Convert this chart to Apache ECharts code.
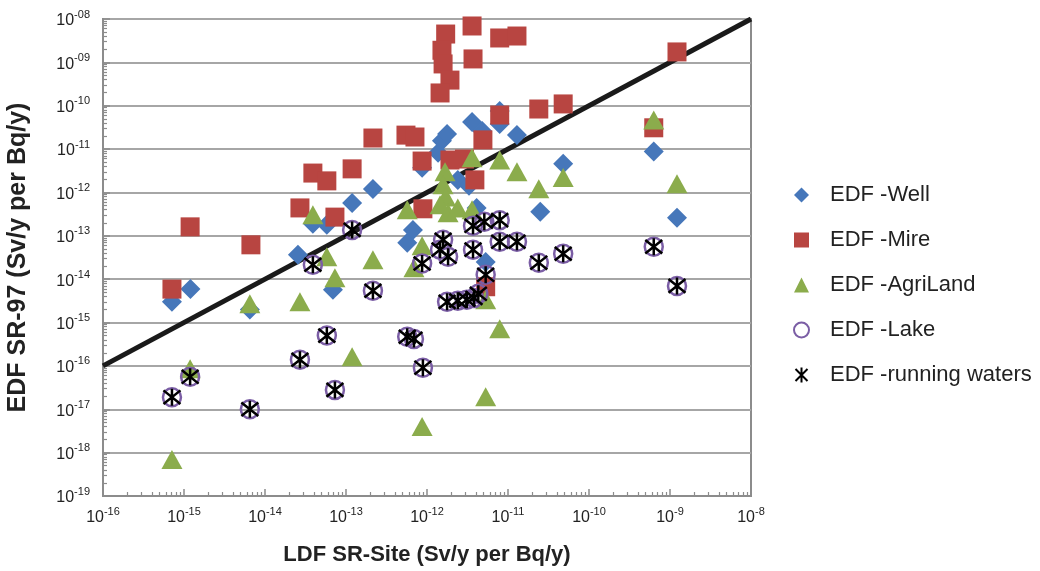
<!DOCTYPE html>
<html>
<head>
<meta charset="utf-8">
<script src="https://cdn.jsdelivr.net/npm/echarts@6/dist/echarts.min.js"></script>
<style>
  html, body { margin: 0; padding: 0; background: #fff; }
  #chart { width: 1040px; height: 571px; }
</style>
</head>
<body>
<div id="chart"></div>
<script>
// EDF SR-97 vs LDF SR-Site, log-log scatter, pairs are [LDF, EDF]

const well = [
  [7.1e-16, 3.0e-15], [1.2e-15, 5.9e-15], [6.5e-15, 2.0e-15], [2.55e-14, 3.65e-14],
  [3.9e-14, 1.9e-13], [5.8e-14, 1.8e-13], [1.19e-13, 5.75e-13], [2.15e-13, 1.2e-12],
  [6.9e-14, 5.7e-15], [5.7e-13, 6.9e-14], [6.7e-13, 1.37e-13], [8.7e-13, 3.7e-12],
  [1.37e-12, 8.2e-12], [1.53e-12, 1.55e-11], [1.77e-12, 2.24e-11], [3.6e-12, 4.2e-11],
  [4.8e-12, 2.6e-11], [7.9e-12, 7.6e-11], [7.9e-12, 3.8e-11], [1.29e-11, 2.1e-11],
  [2.4e-12, 1.95e-12], [3.3e-12, 1.42e-12], [4.1e-12, 4.4e-13], [5.3e-12, 2.5e-14],
  [4.8e-11, 4.6e-12], [2.5e-11, 3.6e-13], [6.3e-10, 8.75e-12], [1.22e-9, 2.6e-13]
]

const mire = [
  [7.1e-16, 5.9e-15], [1.19e-15, 1.61e-13], [6.7e-15, 6.2e-14], [2.7e-14, 4.4e-13],
  [3.9e-14, 2.8e-12], [5.8e-14, 1.85e-12], [1.19e-13, 3.5e-12], [2.15e-13, 1.8e-11],
  [7.3e-14, 2.7e-13], [5.5e-13, 2.1e-11], [7.1e-13, 1.9e-11], [8.7e-13, 5.3e-12],
  [8.9e-13, 4.2e-13], [3.6e-12, 6.9e-9], [1.7e-12, 4.5e-9], [1.53e-12, 1.9e-9],
  [1.58e-12, 9.2e-10], [1.92e-12, 3.9e-10], [1.45e-12, 1.97e-10], [3.7e-12, 1.2e-9],
  [7.9e-12, 3.65e-9], [1.29e-11, 4.05e-9], [2.4e-11, 8.4e-11], [4.8e-11, 1.1e-10],
  [7.9e-12, 6.1e-11], [4.9e-12, 1.63e-11], [1.22e-9, 1.74e-9], [6.3e-10, 3.1e-11],
  [1.92e-12, 5.6e-12], [2.9e-12, 5.9e-12], [3.9e-12, 1.95e-12], [5.3e-12, 6.7e-15]
]

const agriLand = [
  [7.1e-16, 6.9e-19], [1.19e-15, 8.6e-17], [6.5e-15, 2.7e-15], [2.7e-14, 3.0e-15],
  [5.8e-14, 3.3e-14], [7.3e-14, 1.08e-14], [1.19e-13, 1.63e-16], [2.15e-13, 2.8e-14],
  [8.7e-13, 4.0e-18], [6.9e-13, 1.83e-14], [8.7e-13, 5.9e-14], [3.9e-14, 3.05e-13],
  [5.7e-13, 4.0e-13], [1.67e-12, 3.0e-12], [1.58e-12, 1.5e-12], [1.7e-12, 7.9e-13],
  [1.82e-12, 3.4e-13], [2.4e-12, 4.4e-13], [3.6e-12, 4.0e-13], [3.6e-12, 6.3e-12],
  [7.9e-12, 5.6e-12], [1.29e-11, 3.0e-12], [2.4e-11, 1.21e-12], [4.8e-11, 2.2e-12],
  [6.3e-10, 4.7e-11], [1.22e-9, 1.58e-12], [5.3e-12, 3.35e-15], [7.9e-12, 7.2e-16],
  [5.3e-12, 1.95e-17], [1.45e-12, 5.2e-13]
]

const lake = [
  [7.1e-16, 1.9e-17], [1.19e-15, 5.6e-17], [6.5e-15, 1.0e-17], [2.7e-14, 1.39e-16],
  [3.9e-14, 2.15e-14], [5.8e-14, 5.0e-16], [7.3e-14, 2.8e-17], [1.19e-13, 1.37e-13],
  [2.15e-13, 5.4e-15], [5.7e-13, 4.7e-16], [6.9e-13, 4.2e-16], [8.9e-13, 9.1e-17],
  [8.7e-13, 2.3e-14], [1.45e-12, 4.8e-14], [1.58e-12, 8.1e-14], [1.82e-12, 3.3e-14],
  [1.77e-12, 3.0e-15], [2.4e-12, 3.2e-15], [3.1e-12, 3.35e-15], [3.8e-12, 3.7e-15],
  [4.3e-12, 4.6e-15], [3.7e-12, 4.8e-14], [3.7e-12, 1.7e-13], [5.1e-12, 2.1e-13],
  [7.9e-12, 2.3e-13], [7.9e-12, 7.3e-14], [1.29e-11, 7.3e-14], [5.3e-12, 1.26e-14],
  [2.4e-11, 2.4e-14], [4.8e-11, 3.85e-14], [6.3e-10, 5.6e-14], [1.22e-9, 7.0e-15]
]

const runningWaters = [
  [7.1e-16, 1.9e-17], [1.19e-15, 5.6e-17], [6.5e-15, 1.0e-17], [2.7e-14, 1.39e-16],
  [3.9e-14, 2.15e-14], [5.8e-14, 5.0e-16], [7.3e-14, 2.8e-17], [1.19e-13, 1.37e-13],
  [2.15e-13, 5.4e-15], [5.7e-13, 4.7e-16], [6.9e-13, 4.2e-16], [8.9e-13, 9.1e-17],
  [8.7e-13, 2.3e-14], [1.45e-12, 4.8e-14], [1.58e-12, 8.1e-14], [1.82e-12, 3.3e-14],
  [1.77e-12, 3.0e-15], [2.4e-12, 3.2e-15], [3.1e-12, 3.35e-15], [3.8e-12, 3.7e-15],
  [4.3e-12, 4.6e-15], [3.7e-12, 4.8e-14], [3.7e-12, 1.7e-13], [5.1e-12, 2.1e-13],
  [7.9e-12, 2.3e-13], [7.9e-12, 7.3e-14], [1.29e-11, 7.3e-14], [5.3e-12, 1.26e-14],
  [2.4e-11, 2.4e-14], [4.8e-11, 3.85e-14], [6.3e-10, 5.6e-14], [1.22e-9, 7.0e-15]
]

// 1:1 line
const oneToOne = [[1e-16, 1e-16], [1e-8, 1e-8]]

const xMin = 1e-16
const xMax = 1e-8
const yMin = 1e-19
const yMax = 1e-8

const font = "'Liberation Sans', Arial, sans-serif"
const asterisk = 'path://M2,2L18,18M18,2L2,18M10,0L10,20'

// minor ticks 2..9 inside each decade
function minorTicks (lo, hi) {
  const out = []
  for (let e = lo; e < hi; e++) {
    for (let k = 2; k <= 9; k++) out.push(Number((k + 'e' + e)))
  }
  return out
}

function powLabel (pad) {
  return function (v) {
    const e = Math.round(Math.log10(v))
    let s = String(Math.abs(e))
    if (pad && s.length < 2) s = '0' + s
    return '{b|10}{s|-' + s + '}'
  }
}

const labelRich = {
  b: { fontSize: 16, fontFamily: font, color: '#222', verticalAlign: 'bottom' },
  s: { fontSize: 11, fontFamily: font, color: '#222', verticalAlign: 'top', padding: [0, 0, 9, 0] }
}

const chart = echarts.init(document.getElementById('chart'))

chart.setOption({
  animation: false,
  backgroundColor: '#fff',
  grid: {
    left: 103,
    right: 289,
    top: 19,
    bottom: 75,
    containLabel: false,
    outerBoundsMode: 'none',
    show: true,
    borderColor: '#8c8c8c',
    borderWidth: 2
  },
  legend: {
    orient: 'vertical',
    left: 793,
    top: 184,
    padding: 0,
    itemWidth: 15,
    itemHeight: 15,
    itemGap: 23,
    data: ['EDF -Well', 'EDF -Mire', 'EDF -AgriLand', 'EDF -Lake', 'EDF -running waters'],
    textStyle: {
      fontFamily: font,
      fontSize: 22,
      color: '#222',
      padding: [0, 0, 0, 16]
    }
  },
  xAxis: [
    {
      type: 'log',
      logBase: 10,
      min: xMin,
      max: xMax,
      interval: 1,
      name: 'LDF SR-Site (Sv/y per Bq/y)',
      nameLocation: 'middle',
      nameGap: 48,
      nameTextStyle: { fontFamily: font, fontSize: 22, fontWeight: 'bold', color: '#222' },
      axisLine: { lineStyle: { color: '#8c8c8c', width: 2 } },
      axisTick: { inside: true, length: 7, lineStyle: { color: '#8c8c8c', width: 1.5 } },
      axisLabel: { margin: 10, formatter: powLabel(false), rich: labelRich },
      splitLine: { show: false }
    },
    {
      type: 'log',
      logBase: 10,
      min: xMin,
      max: xMax,
      position: 'bottom',
      axisLine: { show: false },
      axisLabel: { show: false },
      splitLine: { show: false },
      axisTick: {
        inside: true,
        length: 4,
        customValues: minorTicks(-16, -8),
        lineStyle: { color: '#8c8c8c', width: 1.2 }
      }
    }
  ],
  yAxis: [
    {
      type: 'log',
      logBase: 10,
      min: yMin,
      max: yMax,
      interval: 1,
      name: 'EDF SR-97 (Sv/y per Bq/y)',
      nameLocation: 'middle',
      nameGap: 72,
      nameTextStyle: { fontFamily: font, fontSize: 25, fontWeight: 'bold', color: '#222' },
      axisLine: { lineStyle: { color: '#8c8c8c', width: 2 } },
      axisTick: { inside: true, length: 7, lineStyle: { color: '#8c8c8c', width: 1.5 } },
      axisLabel: { margin: 13, formatter: powLabel(true), rich: labelRich },
      splitLine: { show: true, lineStyle: { color: '#a6a6a6', width: 2 } }
    },
    {
      type: 'log',
      logBase: 10,
      min: yMin,
      max: yMax,
      position: 'left',
      axisLine: { show: false },
      axisLabel: { show: false },
      splitLine: { show: false },
      axisTick: {
        inside: true,
        length: 4,
        customValues: minorTicks(-19, -8),
        lineStyle: { color: '#8c8c8c', width: 1.2 }
      }
    }
  ],
  series: [
    {
      name: '1:1',
      type: 'line',
      data: oneToOne,
      symbol: 'none',
      z: 1,
      lineStyle: { color: '#1a1a1a', width: 5 }
    },
    {
      name: 'EDF -Well',
      type: 'scatter',
      symbol: 'diamond',
      symbolSize: 20,
      z: 2,
      itemStyle: { color: '#4677BA', opacity: 1 },
      data: well
    },
    {
      name: 'EDF -Mire',
      type: 'scatter',
      symbol: 'rect',
      symbolSize: 19,
      z: 2,
      itemStyle: { color: '#B84541', opacity: 1 },
      data: mire
    },
    {
      name: 'EDF -AgriLand',
      type: 'scatter',
      symbol: 'triangle',
      symbolSize: [21, 19],
      z: 2,
      itemStyle: { color: '#8BAC4C', opacity: 1 },
      data: agriLand
    },
    {
      name: 'EDF -Lake',
      type: 'scatter',
      symbol: 'circle',
      symbolSize: 18,
      z: 2,
      itemStyle: { color: 'rgba(0,0,0,0)', borderColor: '#7B5EA5', borderWidth: 2.5, opacity: 1 },
      data: lake
    },
    {
      name: 'EDF -running waters',
      type: 'scatter',
      symbol: asterisk,
      symbolSize: 17,
      z: 3,
      itemStyle: { color: 'rgba(0,0,0,0)', borderColor: '#000', borderWidth: 2.5, opacity: 1 },
      data: runningWaters
    }
  ]
})
</script>
</body>
</html>
